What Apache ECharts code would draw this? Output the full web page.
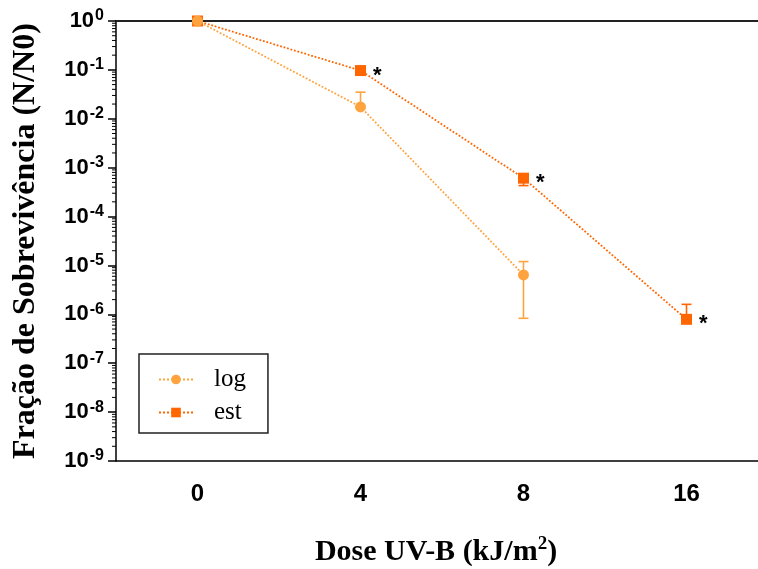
<!DOCTYPE html>
<html>
<head>
<meta charset="utf-8">
<script src="https://cdn.jsdelivr.net/npm/echarts@6/dist/echarts.min.js"></script>
<style>
  html, body { margin: 0; padding: 0; background: #fff; }
  #chart { width: 758px; height: 569px; }
</style>
</head>
<body>
<div id="chart"></div>
<script>
  // doses (kJ/m2)
  var doses = ['0', '4', '8', '16']

  // survival fraction N/N0
  var logVals = [1, 0.0175, 6.4e-6, null]
  var logErrLow = [null, null, 8.3e-7, null]
  var logErrHigh = [null, 0.035, 1.2e-5, null]

  var estVals = [1, 0.097, 6.1e-4, 7.9e-7]
  var estErrLow = [null, null, 4.3e-4, null]
  var estErrHigh = [null, null, null, 1.6e-6]
  var estMarks = ['', '*', '*', '*']

  var logColor = '#FFA33F'
  var estColor = '#FF6600'

  // minor ticks 2..9 of every decade
  var minorVals = []
  for (var k = -9; k < 0; k++) {
    for (var m = 2; m <= 9; m++) minorVals.push([0, m * Math.pow(10, k)])
  }

  function errData(vals, lo, hi) {
    var out = []
    for (var i = 0; i < vals.length; i++) {
      if (vals[i] == null) continue
      if (lo[i] == null && hi[i] == null) continue
      out.push([i, vals[i], lo[i] == null ? vals[i] : lo[i], hi[i] == null ? vals[i] : hi[i], lo[i] != null ? 1 : 0, hi[i] != null ? 1 : 0])
    }
    return out
  }

  function errRender(color) {
    return function (params, api) {
      var x = api.value(0)
      var pLo = api.coord([x, api.value(2)])
      var pHi = api.coord([x, api.value(3)])
      var st = { stroke: color, lineWidth: 1.6 }
      var ch = [{ type: 'line', shape: { x1: pLo[0], y1: pLo[1], x2: pHi[0], y2: pHi[1] }, style: st }]
      if (api.value(4)) ch.push({ type: 'line', shape: { x1: pLo[0] - 5, y1: pLo[1], x2: pLo[0] + 5, y2: pLo[1] }, style: st })
      if (api.value(5)) ch.push({ type: 'line', shape: { x1: pHi[0] - 5, y1: pHi[1], x2: pHi[0] + 5, y2: pHi[1] }, style: st })
      return { type: 'group', children: ch }
    }
  }

  var ec = echarts.init(document.getElementById('chart'))
  ec.setOption({
    animation: false,
    grid: { left: 116, right: -10, top: 21, bottom: 108, containLabel: false, outerBoundsMode: 'none' },
    legend: {
      data: ['log', 'est'],
      orient: 'vertical',
      left: 139,
      top: 354,
      padding: [13, 22, 8, 19],
      itemGap: 8,
      itemWidth: 34,
      itemHeight: 12,
      borderColor: '#222',
      borderWidth: 1.5,
      borderRadius: 0,
      textStyle: { fontFamily: 'Liberation Serif', fontSize: 25, color: '#000', lineHeight: 24, padding: [0, 0, 0, 16] }
    },
    xAxis: [{
      type: 'category',
      data: doses,
      boundaryGap: true,
      axisLine: { lineStyle: { color: '#000', width: 1.5 } },
      axisTick: { alignWithLabel: true, length: 8, lineStyle: { color: '#000', width: 1.5 } },
      axisLabel: { margin: 21, color: '#000', fontFamily: 'Liberation Sans', fontWeight: 'bold', fontSize: 24 },
      name: '{t|Dose UV-B (kJ/m}{s|2}{t|)}',
      nameLocation: 'middle',
      nameGap: 74,
      nameTextStyle: {
        padding: [0, 12, 0, 0],
        rich: {
          t: { fontFamily: 'Liberation Serif', fontWeight: 'bold', fontSize: 30, color: '#000', lineHeight: 34 },
          s: { fontFamily: 'Liberation Serif', fontWeight: 'bold', fontSize: 19, color: '#000', lineHeight: 34, verticalAlign: 'top' }
        }
      }
    }, {
      type: 'category',
      data: doses,
      position: 'top',
      axisLine: { lineStyle: { color: '#222', width: 2 } },
      axisTick: { show: false },
      axisLabel: { show: false }
    }],
    yAxis: {
      type: 'log',
      logBase: 10,
      min: 1e-9,
      max: 1,
      interval: 1,
      axisLine: { show: true, lineStyle: { color: '#000', width: 1.5 } },
      axisTick: { show: true, length: 8, lineStyle: { color: '#000', width: 1.5 } },
      splitLine: { show: false },
      axisLabel: {
        margin: 12,
        formatter: function (v) {
          var e = Math.round(Math.log10(v))
          return '{b|10}{s|' + e + '}'
        },
        rich: {
          b: { fontFamily: 'Liberation Sans', fontWeight: 'bold', fontSize: 22, color: '#000', lineHeight: 26 },
          s: { fontFamily: 'Liberation Sans', fontWeight: 'bold', fontSize: 16, color: '#000', lineHeight: 26, verticalAlign: 'top', padding: [0, 0, 0, 1] }
        }
      },
      name: 'Fração de Sobrevivência (N/N0)',
      nameLocation: 'middle',
      nameGap: 74,
      nameTextStyle: { fontFamily: 'Liberation Serif', fontWeight: 'bold', fontSize: 32, color: '#000' }
    },
    series: [{
      type: 'custom',
      silent: true,
      clip: false,
      data: minorVals,
      renderItem: function (params, api) {
        var p = api.coord([0, api.value(1)])
        var x0 = params.coordSys.x
        return { type: 'line', shape: { x1: x0 - 4, y1: p[1], x2: x0, y2: p[1] }, style: { stroke: '#000', lineWidth: 1 } }
      }
    }, {
      type: 'custom',
      name: 'logErr',
      data: errData(logVals, logErrLow, logErrHigh),
      renderItem: errRender(logColor)
    }, {
      type: 'custom',
      name: 'estErr',
      data: errData(estVals, estErrLow, estErrHigh),
      renderItem: errRender(estColor)
    }, {
      name: 'est',
      type: 'line',
      data: estVals.map(function (v, i) {
        return { value: v, label: { show: estMarks[i] != '', formatter: estMarks[i] } }
      }),
      symbol: 'rect',
      symbolSize: 11,
      color: estColor,
      lineStyle: { type: 'dotted', width: 1.8, color: estColor },
      label: { position: 'right', distance: 7, color: '#000', fontFamily: 'Liberation Sans', fontWeight: 'bold', fontSize: 22, offset: [0, 5] }
    }, {
      name: 'log',
      type: 'line',
      data: logVals,
      symbol: 'circle',
      symbolSize: 11,
      color: logColor,
      connectNulls: false,
      lineStyle: { type: 'dotted', width: 1.8, color: logColor }
    }]
  })
</script>
</body>
</html>
